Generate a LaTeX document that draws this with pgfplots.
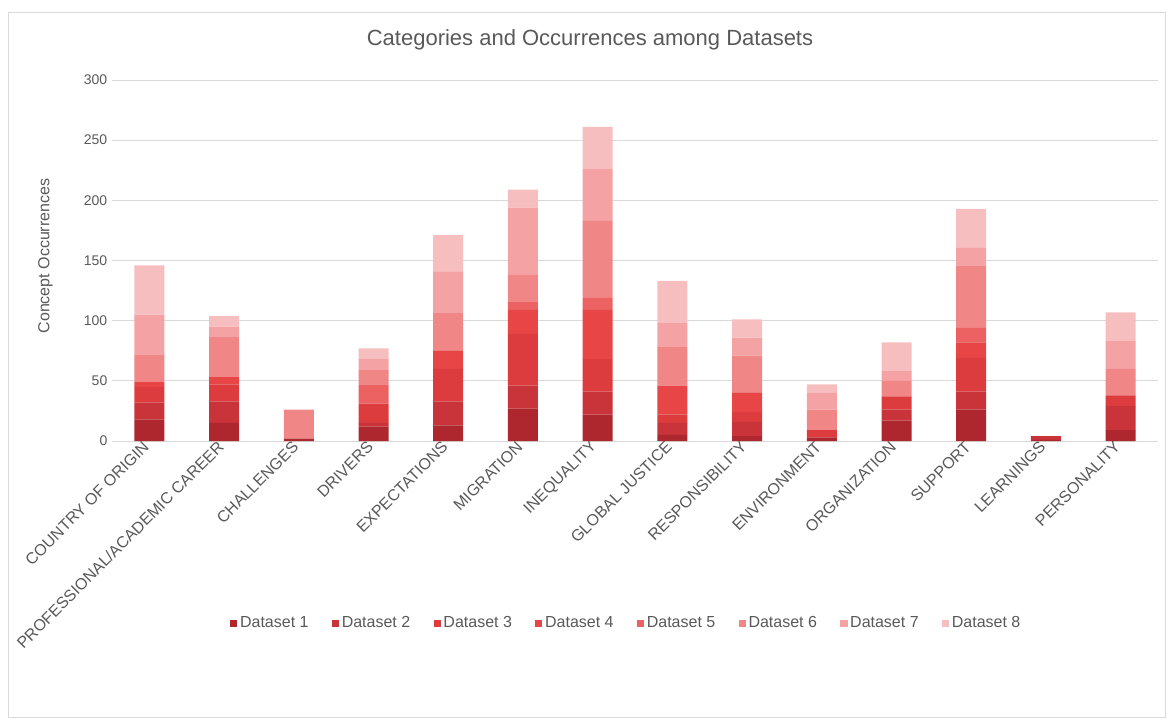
\documentclass[border=0pt]{standalone}
\usepackage{fontspec}
\setmainfont{Liberation Sans}
\usepackage{pgfplots}
\pgfplotsset{compat=1.18}
\usepackage{pgfplotstable}

\definecolor{d1}{RGB}{174,38,46}
\definecolor{d2}{RGB}{200,52,58}
\definecolor{d3}{RGB}{220,60,62}
\definecolor{d4}{RGB}{232,70,70}
\definecolor{d5}{RGB}{236,98,98}
\definecolor{d6}{RGB}{240,134,134}
\definecolor{d7}{RGB}{244,162,164}
\definecolor{d8}{RGB}{247,190,191}
\definecolor{txt}{RGB}{89,89,89}
\definecolor{gridc}{RGB}{217,217,217}

\pgfplotstableread{
x d1 d2 d3 d4 d5 d6 d7 d8
0 18 14 13 4 0 23 33 41
1 15 18 14 6 0 34 8 9
2 2 0 0 0 0 24 0 0
3 12 3 16 0 16 12 9 9
4 13 20 27 15 0 32 34 30
5 27 19 43 20 7 22 56 15
6 22 19 27 41 10 64 43 35
7 5 10 7 24 0 32 20 35
8 4 12 8 16 0 31 15 15
9 3 0 6 0 0 17 14 7
10 17 9 11 0 0 13 8 24
11 26 15 28 13 12 52 15 32
12 1 3 0 0 0 0 0 0
13 9 20 9 0 0 22 23 24
}\datatable

\begin{document}
\begin{tikzpicture}
\path[use as bounding box] (0pt,0pt) rectangle (875.25pt,-539.25pt);
\draw[gridc, line width=0.75pt] (6pt,-9pt) rectangle (874pt,-538pt);
\node[font=\fontsize{16.5}{19}\selectfont, text=txt] at (442.5pt,-30pt) {Categories and Occurrences among Datasets};
\node[font=\fontsize{12}{14}\selectfont, text=txt, rotate=90] at (34pt,-192pt) {Concept Occurrences};
\begin{axis}[
  at={(84pt,-330.75pt)}, anchor=south west,
  scale only axis, width=784.5pt, height=270.75pt,
  ybar stacked, bar width=22.5pt,
  xmin=-0.5, xmax=13.5, ymin=0, ymax=300,
  xtick={0,...,13},
  xticklabels={COUNTRY OF ORIGIN,PROFESSIONAL/ACADEMIC CAREER,CHALLENGES,DRIVERS,EXPECTATIONS,MIGRATION,INEQUALITY,GLOBAL JUSTICE,RESPONSIBILITY,ENVIRONMENT,ORGANIZATION,SUPPORT,LEARNINGS,PERSONALITY},
  ytick={0,50,...,300},
  ymajorgrids, grid style={gridc, line width=0.75pt},
  axis line style={draw=none},
  major tick length=0pt,
  tick label style={text=txt},
  yticklabel style={font=\fontsize{10.5}{12}\selectfont},
  xticklabel style={rotate=45, anchor=east, font=\fontsize{12}{14}\selectfont},
  /pgf/number format/assume math mode=true,
  legend columns=8,
  legend style={draw=none, fill=none, text=txt, font=\fontsize{12}{14}\selectfont,
    at={(0.492,-0.505)}, anchor=center,
    /tikz/every even column/.append style={column sep=15.5pt}},
  legend image code/.code={\draw[#1, draw=none] (0pt,-2.8pt) rectangle (5.4pt,2.8pt);},
  every axis plot/.append style={draw=none},
]
\addplot[fill=d1, draw=none] table[x=x, y=d1] {\datatable};
\addplot[fill=d2, draw=none] table[x=x, y=d2] {\datatable};
\addplot[fill=d3, draw=none] table[x=x, y=d3] {\datatable};
\addplot[fill=d4, draw=none] table[x=x, y=d4] {\datatable};
\addplot[fill=d5, draw=none] table[x=x, y=d5] {\datatable};
\addplot[fill=d6, draw=none] table[x=x, y=d6] {\datatable};
\addplot[fill=d7, draw=none] table[x=x, y=d7] {\datatable};
\addplot[fill=d8, draw=none] table[x=x, y=d8] {\datatable};
\legend{Dataset 1,Dataset 2,Dataset 3,Dataset 4,Dataset 5,Dataset 6,Dataset 7,Dataset 8}
\end{axis}
\end{tikzpicture}
\end{document}
